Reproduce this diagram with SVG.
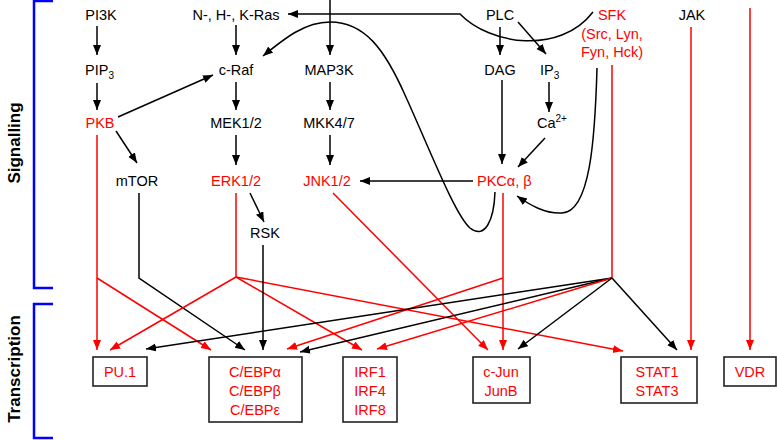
<svg xmlns="http://www.w3.org/2000/svg" width="777" height="440" viewBox="0 0 777 440">
<style>
text{font-family:"Liberation Sans",Arial,sans-serif;font-size:14.5px;fill:#000}
.c{text-anchor:middle}
.r{fill:#f00}
.lab{font-size:17px;font-weight:bold;text-anchor:middle}
.k{fill:none;stroke:#000;stroke-width:1.5}
.kr{fill:none;stroke:#f00;stroke-width:1.5}
.ka{fill:none;stroke:#000;stroke-width:1.5;marker-end:url(#ak)}
.ra{fill:none;stroke:#f00;stroke-width:1.5;marker-end:url(#ar)}
.box{fill:#fff;stroke:#222;stroke-width:1.6}
.br{fill:none;stroke:#00f;stroke-width:2.5}
</style>
<defs>
<marker id="ak" markerUnits="userSpaceOnUse" markerWidth="11" markerHeight="9" refX="10" refY="4" orient="auto"><path d="M0,0 L10,4 L0,8 z" fill="#000"/></marker>
<marker id="ar" markerUnits="userSpaceOnUse" markerWidth="11" markerHeight="9" refX="10" refY="4" orient="auto"><path d="M0,0 L10,4 L0,8 z" fill="#f00"/></marker>
</defs>
<g id="brackets">
<path class="br" d="M53,1 L34,1 L34,288 L53,288"/>
<path class="br" d="M53,304 L34,304 L34,438 L53,438"/>
<text class="lab" transform="translate(20,143) rotate(-90)">Signalling</text>
<text class="lab" transform="translate(20,369) rotate(-90)">Transcription</text>
</g>
<g id="connectors">
<path class="ka" d="M97,26 L97,55"/>
<path class="ka" d="M97,83 L97,110"/>
<path class="ka" d="M118,117 L213,75"/>
<path class="ka" d="M116,131 L137,163"/>
<path class="ka" d="M236,25 L236,55"/>
<path class="ka" d="M236,82 L236,110"/>
<path class="ka" d="M236,135 L236,165"/>
<path class="ka" d="M250,193 L264,222"/>
<path class="ka" d="M330,0 L330,55"/>
<path class="ka" d="M330,82 L330,110"/>
<path class="ka" d="M330,135 L330,165"/>
<path class="ka" d="M473,181 L360,181"/>
<path class="ka" d="M500,27 L500,55"/>
<path class="ka" d="M518,22 L546,54"/>
<path class="ka" d="M502,80 L502,164"/>
<path class="ka" d="M549,82 L549,112"/>
<path class="ka" d="M545,138 L518,167"/>
<path class="ka" d="M495,192 C494,220 485,240 470,228 C455,215 430,150 405,95 C385,50 365,22 330,22 C305,22 285,38 263,56"/>
<path class="ka" d="M597,68 C595,140 590,212 562,213 C545,214 530,205 517,196"/>
<path class="ka" d="M593,12 C560,55 490,45 460,14 L288,14"/>
<path class="ra" d="M97,135 L97,350"/>
<path class="ra" d="M97,278 L211,350"/>
<path class="ka" d="M139,193 L139,278 L245,350"/>
<path class="kr" d="M236,193 L236,277"/>
<path class="ra" d="M236,277 L110,350"/>
<path class="ra" d="M236,277 L362,350"/>
<path class="ra" d="M236,277 L623,351"/>
<path class="ka" d="M263,245 L263,350"/>
<path class="ra" d="M333,193 L488,350"/>
<path class="ra" d="M503,193 L503,350"/>
<path class="ra" d="M503,278 L287,349"/>
<path class="kr" d="M612,65 L612,278"/>
<path class="ka" d="M612,278 L146,349"/>
<path class="ka" d="M612,278 L300,352"/>
<path class="ra" d="M612,278 L377,349"/>
<path class="ka" d="M612,278 L518,349"/>
<path class="ka" d="M612,278 L677,350"/>
<path class="ra" d="M691,27 L691,350"/>
<path class="ra" d="M750,8 L750,350"/>
</g>
<g id="PI3K"><text class="c" x="101" y="20">PI3K</text></g>
<g id="PIP3"><text x="85" y="75">PIP<tspan font-size="10" dy="4">3</tspan></text></g>
<g id="PKB"><text class="c r" x="100" y="128">PKB</text></g>
<g id="mTOR"><text class="c" x="137" y="186">mTOR</text></g>
<g id="Ras"><text class="c" x="236" y="20">N-, H-, K-Ras</text></g>
<g id="cRaf"><text class="c" x="236" y="75">c-Raf</text></g>
<g id="MEK"><text class="c" x="236" y="128">MEK1/2</text></g>
<g id="ERK"><text class="c r" x="236" y="186">ERK1/2</text></g>
<g id="RSK"><text class="c" x="265" y="238">RSK</text></g>
<g id="MAP3K"><text class="c" x="329" y="75">MAP3K</text></g>
<g id="MKK"><text class="c" x="329" y="128">MKK4/7</text></g>
<g id="JNK"><text class="c r" x="327" y="186">JNK1/2</text></g>
<g id="PLC"><text class="c" x="500" y="20">PLC</text></g>
<g id="DAG"><text class="c" x="500" y="75">DAG</text></g>
<g id="IP3"><text x="540" y="75">IP<tspan font-size="10" dy="4">3</tspan></text></g>
<g id="Ca"><text x="537" y="128">Ca<tspan font-size="10" dy="-6">2+</tspan></text></g>
<g id="PKC"><text class="r" x="477" y="186">PKCα, β</text></g>
<g id="SFK"><text class="c r" x="612" y="20">SFK</text><text class="c r" x="612" y="38.5">(Src, Lyn,</text><text class="c r" x="612" y="57">Fyn, Hck)</text></g>
<g id="JAK"><text class="c" x="692" y="20">JAK</text></g>
<g id="PU1"><rect class="box" x="93" y="357" width="54" height="29"/><text class="c r" x="120" y="377">PU.1</text></g>
<g id="CEBP"><rect class="box" x="209" y="357" width="93" height="65"/><text class="c r" x="255" y="377">C/EBPα</text><text class="c r" x="255" y="396">C/EBPβ</text><text class="c r" x="255" y="415">C/EBPε</text></g>
<g id="IRF"><rect class="box" x="343" y="357" width="54" height="65"/><text class="c r" x="370" y="377">IRF1</text><text class="c r" x="370" y="396">IRF4</text><text class="c r" x="370" y="415">IRF8</text></g>
<g id="cJun"><rect class="box" x="473" y="357" width="57" height="46"/><text class="c r" x="501" y="377">c-Jun</text><text class="c r" x="501" y="396">JunB</text></g>
<g id="STAT"><rect class="box" x="621" y="357" width="76" height="46"/><text class="c r" x="657" y="377">STAT1</text><text class="c r" x="657" y="396">STAT3</text></g>
<g id="VDR"><rect class="box" x="724" y="357" width="52" height="29"/><text class="c r" x="750" y="377">VDR</text></g>
</svg>
